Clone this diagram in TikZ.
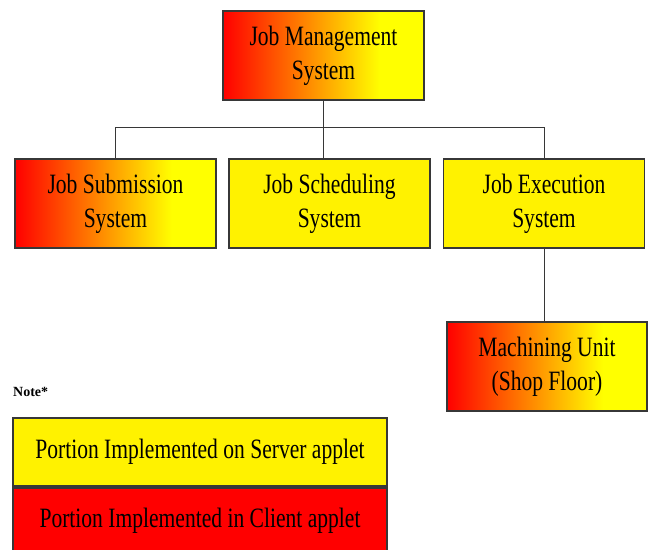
\documentclass[tikz,border=0pt]{standalone}
\usepackage{fontspec}
\setmainfont{Liberation Serif}[FakeStretch=0.77]
\newfontfamily\notefont{Liberation Serif}
\pgfdeclarehorizontalshading{ryshade}{100bp}{color(0bp)=(red); color(25bp)=(red); color(64bp)=(yellow); color(100bp)=(yellow)}
\definecolor{edgegray}{RGB}{55,55,55}
\tikzset{
  sysbox/.style={draw=edgegray, line width=1.3pt, minimum width=201pt, minimum height=89pt,
    inner sep=0pt, align=center, font=\fontsize{28}{34}\selectfont},
  grad/.style={shading=ryshade},
  yel/.style={fill=yellow},
  legbox/.style={draw=edgegray, line width=1.3pt, minimum width=374pt, minimum height=68pt,
    inner sep=0pt, font=\fontsize{28}{34}\selectfont},
  conn/.style={draw=edgegray, line width=1pt}
}
\begin{document}
\begin{tikzpicture}[x=1pt,y=-1pt]
\useasboundingbox (0,0) rectangle (648,549);
\node[sysbox,grad] (top) at (323.5,55.5) {Job Management\\System};
\node[sysbox,grad] (sub) at (115.5,203.5) {Job Submission\\System};
\node[sysbox,yel] (sched) at (329.5,203.5) {Job Scheduling\\System};
\node[sysbox,yel] (exec) at (544,203.5) {Job Execution\\System};
\node[sysbox,grad,minimum width=200pt] (mach) at (547,366.5) {Machining Unit\\(Shop Floor)};
\coordinate (bus) at (0,127);
\draw[conn] (sub.north |- bus) -- (exec.north |- bus);
\draw[conn] (top.south) -- (top.south |- sched.north);
\draw[conn] (sub.north |- bus) -- (sub.north);
\draw[conn] (exec.north |- bus) -- (exec.north);
\draw[conn] (exec.south) -- (exec.south |- mach.north);
\node[anchor=west, inner sep=0pt, font=\notefont\bfseries\fontsize{14}{16}\selectfont] (note) at (13,392) {Note*};
\node[legbox,yel] (server) at (200,452) {Portion Implemented on Server applet};
\node[legbox,fill=red,minimum height=66pt] (client) at (200,521) {Portion Implemented in Client applet};
\end{tikzpicture}
\end{document}
